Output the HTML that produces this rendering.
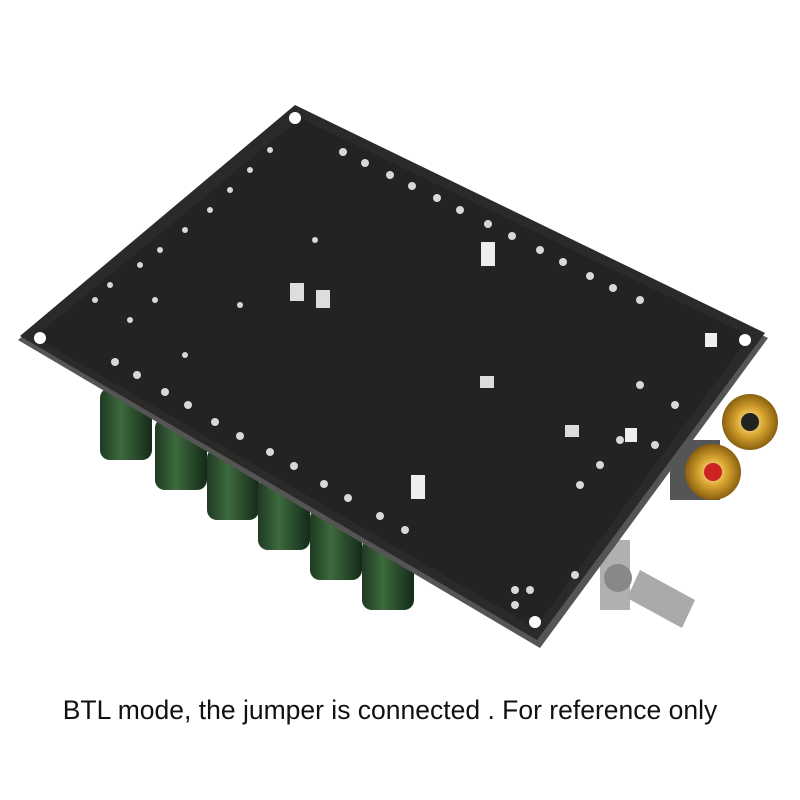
<!DOCTYPE html>
<html><head><meta charset="utf-8"><style>
html,body{margin:0;padding:0;background:#fff;width:800px;height:800px;overflow:hidden}
.cap{font-family:"Liberation Sans",sans-serif;font-size:26.5px;color:#111;position:absolute;top:695px;left:0;width:780px;text-align:center}
</style></head><body>
<svg width="800" height="800" style="position:absolute;left:0;top:0">
<defs>
<linearGradient id="cg" x1="0" x2="1"><stop offset="0" stop-color="#1f3a22"/><stop offset="0.4" stop-color="#3d6a3e"/><stop offset="1" stop-color="#142a18"/></linearGradient>
<radialGradient id="gold"><stop offset="0" stop-color="#fff3b0"/><stop offset="0.5" stop-color="#d9a530"/><stop offset="1" stop-color="#8a6010"/></radialGradient>
</defs>
<g>
<rect x="100" y="388" width="52" height="72" rx="10" fill="url(#cg)"/>
<rect x="155" y="418" width="52" height="72" rx="10" fill="url(#cg)"/>
<rect x="207" y="448" width="52" height="72" rx="10" fill="url(#cg)"/>
<rect x="258" y="478" width="52" height="72" rx="10" fill="url(#cg)"/>
<rect x="310" y="508" width="52" height="72" rx="10" fill="url(#cg)"/>
<rect x="362" y="538" width="52" height="72" rx="10" fill="url(#cg)"/>
</g>
<rect x="600" y="540" width="30" height="70" fill="#b0b0b0"/>
<rect x="670" y="440" width="50" height="60" fill="#555"/>
<polygon points="295,108 768,338 540,648 18,340" fill="#555"/>
<polygon points="295,105 765,333 537,640 20,336" fill="#2a2a28"/>
<polygon points="300,118 750,336 535,628 35,337" fill="#232321"/>
<g fill="#fff"><circle cx="295" cy="118" r="6"/><circle cx="745" cy="340" r="6"/><circle cx="535" cy="622" r="6"/><circle cx="40" cy="338" r="6"/></g>
<g fill="#d8d8d8">
<circle cx="343" cy="152" r="4"/><circle cx="365" cy="163" r="4"/><circle cx="390" cy="175" r="4"/><circle cx="412" cy="186" r="4"/><circle cx="437" cy="198" r="4"/><circle cx="460" cy="210" r="4"/><circle cx="488" cy="224" r="4"/><circle cx="512" cy="236" r="4"/><circle cx="540" cy="250" r="4"/><circle cx="563" cy="262" r="4"/><circle cx="590" cy="276" r="4"/><circle cx="613" cy="288" r="4"/><circle cx="640" cy="300" r="4"/>
<circle cx="115" cy="362" r="4"/><circle cx="137" cy="375" r="4"/><circle cx="165" cy="392" r="4"/><circle cx="188" cy="405" r="4"/><circle cx="215" cy="422" r="4"/><circle cx="240" cy="436" r="4"/><circle cx="270" cy="452" r="4"/><circle cx="294" cy="466" r="4"/><circle cx="324" cy="484" r="4"/><circle cx="348" cy="498" r="4"/><circle cx="380" cy="516" r="4"/><circle cx="405" cy="530" r="4"/>
<circle cx="270" cy="150" r="3"/><circle cx="250" cy="170" r="3"/><circle cx="230" cy="190" r="3"/><circle cx="210" cy="210" r="3"/><circle cx="185" cy="230" r="3"/><circle cx="160" cy="250" r="3"/><circle cx="140" cy="265" r="3"/><circle cx="110" cy="285" r="3"/><circle cx="95" cy="300" r="3"/><circle cx="130" cy="320" r="3"/><circle cx="155" cy="300" r="3"/>
<circle cx="640" cy="385" r="4"/><circle cx="675" cy="405" r="4"/><circle cx="655" cy="445" r="4"/><circle cx="620" cy="440" r="4"/><circle cx="600" cy="465" r="4"/><circle cx="580" cy="485" r="4"/><circle cx="575" cy="575" r="4"/><circle cx="515" cy="590" r="4"/><circle cx="515" cy="605" r="4"/><circle cx="530" cy="590" r="4"/><circle cx="315" cy="240" r="3"/><circle cx="240" cy="305" r="3"/><circle cx="185" cy="355" r="3"/>
</g>
<rect x="481" y="242" width="14" height="24" fill="#eee"/>
<rect x="411" y="475" width="14" height="24" fill="#eee"/>
<rect x="290" y="283" width="14" height="18" fill="#ddd"/><rect x="316" y="290" width="14" height="18" fill="#ddd"/>
<rect x="480" y="376" width="14" height="12" fill="#ddd"/><rect x="565" y="425" width="14" height="12" fill="#ddd"/>
<rect x="705" y="333" width="12" height="14" fill="#eee"/><rect x="625" y="428" width="12" height="14" fill="#eee"/>
<circle cx="750" cy="422" r="28" fill="url(#gold)"/><circle cx="750" cy="422" r="9" fill="#222"/>
<circle cx="713" cy="472" r="28" fill="url(#gold)"/><circle cx="713" cy="472" r="9" fill="#c22"/>
<polygon points="640,570 695,600 682,628 627,598" fill="#aaa"/>
<circle cx="618" cy="578" r="14" fill="#888"/>
</svg>
<div class="cap">BTL mode, the jumper is connected . For reference only</div>
</body></html>
